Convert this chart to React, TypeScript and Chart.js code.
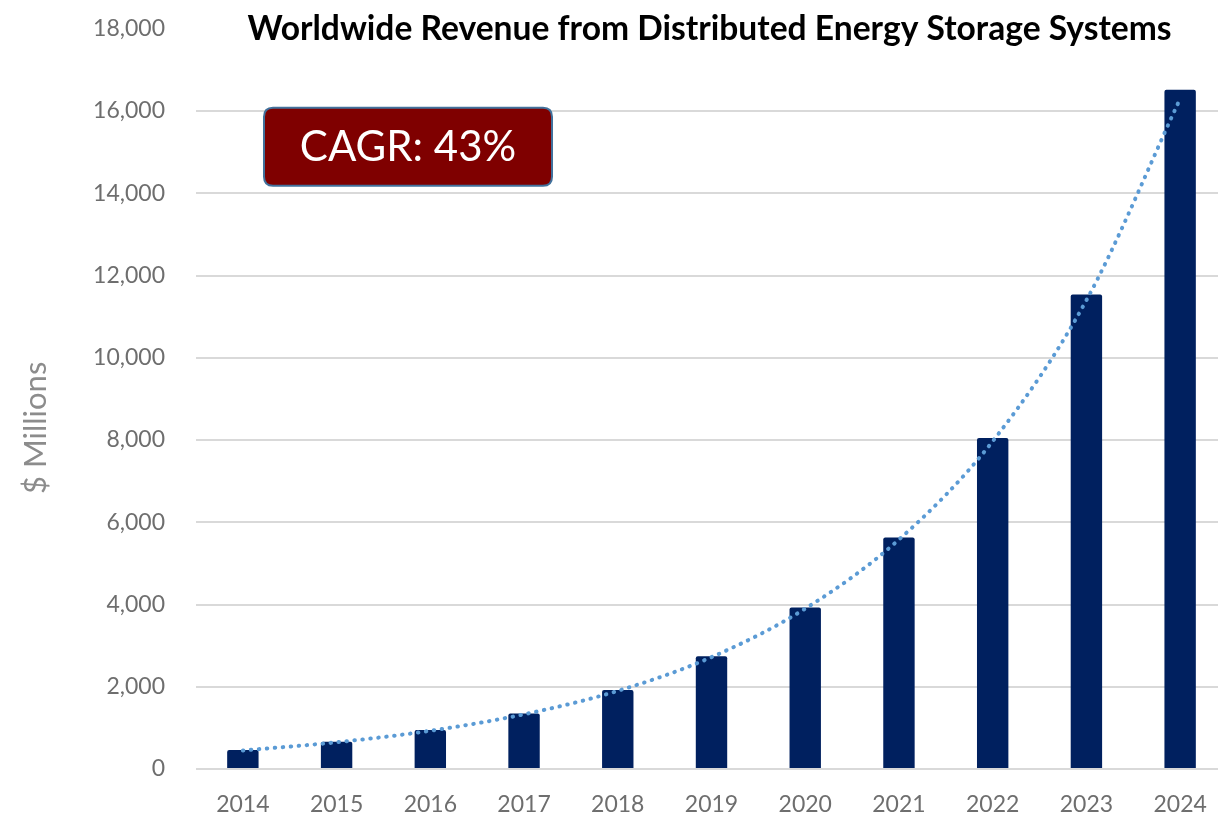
import React, { useEffect, useRef } from "react";
import { Chart, registerables } from "chart.js";

Chart.register(...registerables);

const years = ["2014", "2015", "2016", "2017", "2018", "2019", "2020", "2021", "2022", "2023", "2024"];
const revenue = [460, 660, 950, 1350, 1920, 2740, 3930, 5630, 8050, 11540, 16520];
const trend = [450, 650, 930, 1330, 1900, 2720, 3900, 5580, 7970, 11400, 16300];
const yTicks = [0, 2000, 4000, 6000, 8000, 10000, 12000, 14000, 16000, 18000];

const chartTitle = "Worldwide Revenue from Distributed Energy Storage Systems";
const cagrText = "CAGR: 43%";
const yAxisTitle = "$ Millions";

const FONT = "Lato, 'Open Sans', sans-serif";

const overlayPlugin = {
  id: "overlay",
  afterDraw(chart: any) {
    const ctx = chart.ctx;
    const area = chart.chartArea;
    const y0 = area.top - 29; // screen offset of canvas
    ctx.save();
    // title
    ctx.fillStyle = "#000000";
    ctx.font = `bold 33.6px ${FONT}`;
    ctx.textAlign = "center";
    ctx.textBaseline = "middle";
    ctx.fillText(chartTitle, (area.left + area.right) / 2 - 2, y0 + 29);

    // y axis title
    ctx.save();
    ctx.translate(36, y0 + 428);
    ctx.rotate(-Math.PI / 2);
    ctx.fillStyle = "#8c8c8c";
    ctx.font = `31px ${FONT}`;
    ctx.textAlign = "center";
    ctx.textBaseline = "middle";
    ctx.fillText(yAxisTitle, 0, 0);
    ctx.restore();

    // CAGR box
    const bx = 264, by = y0 + 108, bw = 288, bh = 78, r = 9;
    ctx.beginPath();
    ctx.moveTo(bx + r, by);
    ctx.lineTo(bx + bw - r, by);
    ctx.quadraticCurveTo(bx + bw, by, bx + bw, by + r);
    ctx.lineTo(bx + bw, by + bh - r);
    ctx.quadraticCurveTo(bx + bw, by + bh, bx + bw - r, by + bh);
    ctx.lineTo(bx + r, by + bh);
    ctx.quadraticCurveTo(bx, by + bh, bx, by + bh - r);
    ctx.lineTo(bx, by + r);
    ctx.quadraticCurveTo(bx, by, bx + r, by);
    ctx.closePath();
    ctx.fillStyle = "#7f0000";
    ctx.fill();
    ctx.lineWidth = 2;
    ctx.strokeStyle = "#41719c";
    ctx.stroke();
    ctx.fillStyle = "#ffffff";
    ctx.font = `42px ${FONT}`;
    ctx.textAlign = "center";
    ctx.textBaseline = "middle";
    ctx.fillText(cagrText, bx + bw / 2, by + bh / 2 + 1);
    ctx.restore();
  },
};

export default function App() {
  const canvasRef = useRef<HTMLCanvasElement | null>(null);

  useEffect(() => {
    if (!canvasRef.current) return;
    const chart = new Chart(canvasRef.current, {
      type: "bar",
      data: {
        labels: years,
        datasets: [
          {
            type: "line",
            label: "Trend",
            data: trend,
            borderColor: "#5b9bd5",
            borderWidth: 4,
            borderDash: [0.5, 7.5],
            borderCapStyle: "round",
            pointRadius: 0,
            cubicInterpolationMode: "monotone",
            fill: false,
            order: 0,
          } as any,
          {
            type: "bar",
            label: "Revenue",
            data: revenue,
            backgroundColor: "#00205f",
            borderRadius: { topLeft: 2, topRight: 2, bottomLeft: 0, bottomRight: 0 },
            borderSkipped: false,
            barPercentage: 0.335,
            categoryPercentage: 1,
            order: 1,
          } as any,
        ],
      },
      options: {
        animation: false,
        responsive: true,
        maintainAspectRatio: false,
        layout: { autoPadding: false, padding: { top: 29, right: 13, left: 0, bottom: 0 } },
        plugins: {
          legend: { display: false },
          tooltip: { enabled: false },
          title: { display: false },
        },
        scales: {
          x: {
            grid: { display: false, drawTicks: false },
            border: { display: false },
            ticks: {
              color: "#6e6e6e",
              font: { family: FONT, size: 23 },
              padding: 22,
              maxRotation: 0,
            },
            afterFit(scale: any) {
              scale.height = 55;
            },
          },
          y: {
            min: 0,
            max: 18000,
            afterBuildTicks(scale: any) {
              scale.ticks = yTicks.map((v) => ({ value: v }));
            },
            grid: {
              color: (c: any) => (c.tick && c.tick.value === 18000 ? "rgba(0,0,0,0)" : "#d9d9d9"),
              lineWidth: 2,
              drawTicks: false,
            },
            border: { display: false },
            ticks: {
              color: "#6e6e6e",
              font: { family: FONT, size: 23 },
              padding: 31,
              callback: (v: any) => Number(v).toLocaleString("en-US"),
            },
            afterFit(scale: any) {
              scale.width = 196;
            },
          },
        },
      },
      plugins: [overlayPlugin],
    });
    return () => chart.destroy();
  }, []);

  return (
    <div style={{ position: "fixed", left: 0, top: 0, width: 1218, height: 824, overflow: "hidden", background: "#ffffff" }}>
      <div style={{ position: "absolute", left: 0, top: -16, width: 1240, height: 840 }}>
        <canvas ref={canvasRef} />
      </div>
    </div>
  );
}
